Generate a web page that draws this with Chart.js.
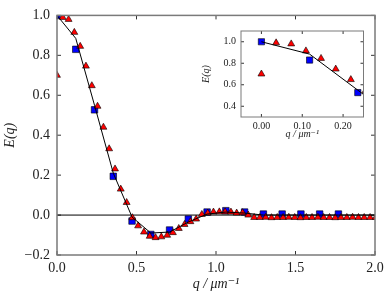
<!DOCTYPE html>
<html lang="en">
<head>
    <meta charset="UTF-8">
    <title>E(q)</title>
    <script src="https://cdn.jsdelivr.net/npm/chart.js"></script>
    <style>
        html, body { margin: 0; padding: 0; background: #fff; }
        #wrap { position: relative; width: 390px; height: 301px; }
        #main { position: absolute; left: 0; top: 0; }
        #inset { position: absolute; left: 200px; top: 20px; }
    </style>
</head>
<body>
    <div id="wrap">
        <canvas id="main" width="390" height="301"></canvas>
        <canvas id="inset" width="170" height="125"></canvas>
    </div>
<script>
    // measured points (red triangles)
    var triQ = [0, 0.036, 0.073, 0.109, 0.146, 0.182, 0.219, 0.255, 0.292, 0.328,
        0.365, 0.401, 0.438, 0.474, 0.510, 0.547, 0.583, 0.620, 0.656, 0.693,
        0.729, 0.766, 0.802, 0.839, 0.875, 0.911, 0.948, 0.984, 1.021, 1.057,
        1.094, 1.130, 1.167, 1.203, 1.240, 1.276, 1.313, 1.349, 1.385, 1.422,
        1.458, 1.495, 1.531, 1.568, 1.604, 1.641, 1.677, 1.714, 1.750, 1.786,
        1.823, 1.859, 1.896, 1.932, 1.969, 2.005]
    var triE = [0.70, 0.99, 0.98, 0.915, 0.845, 0.746, 0.648, 0.545, 0.44, 0.332,
        0.231, 0.13, 0.063, -0.013, -0.054, -0.085, -0.106, -0.113, -0.109, -0.101,
        -0.088, -0.067, -0.047, -0.033, -0.02, 0.003, 0.01, 0.015, 0.016, 0.016,
        0.015, 0.01, 0.012, 0.0, -0.012, -0.012, -0.011, -0.013, -0.012, -0.012,
        -0.011, -0.012, -0.013, -0.012, -0.012, -0.011, -0.012, -0.012, -0.013, -0.012,
        -0.012, -0.011, -0.012, -0.012, -0.012, -0.012]

    // simulation (blue squares)
    var sqQ = [0, 0.118, 0.236, 0.354, 0.472, 0.590, 0.708, 0.826, 0.944, 1.062,
        1.180, 1.298, 1.416, 1.534, 1.652, 1.770]
    var sqE = [1.0, 0.83, 0.527, 0.194, -0.03, -0.097, -0.075, -0.02, 0.015, 0.022,
        0.015, 0.005, 0.005, 0.005, 0.005, 0.005]

    // theory curve (black line)
    var fitQ = [0, 0.118, 0.236, 0.354, 0.472, 0.590, 0.708, 0.826, 0.944, 1.062,
        1.180, 1.298, 1.416, 1.534, 1.652, 1.770, 1.888, 2.0]
    var fitE = [1.0, 0.885, 0.55, 0.21, -0.01, -0.09, -0.085, -0.035, 0.005, 0.015,
        0.01, 0.0, 0.0, 0.0, 0.0, 0.0, 0.0, 0.0]

    var mainXTicks = [0, 0.5, 1.0, 1.5, 2.0]
    var mainYTicks = [-0.2, 0, 0.2, 0.4, 0.6, 0.8, 1.0]
    var insetXTicks = [0, 0.1, 0.2]
    var insetYTicks = [0.4, 0.6, 0.8, 1.0]

    function pts(xs, ys) {
        var out = []
        for (var i = 0; i < xs.length; i++) out.push({ x: xs[i], y: ys[i] })
        return out
    }

    function fmt(v, d) {
        if (Math.abs(v) < 1e-9) v = 0
        return v.toFixed(d).replace('-', '\u2212')
    }

    // frame, inward ticks on all four sides, zero line
    function framePlugin(len, width, zero) {
        return {
            id: 'frame',
            beforeDatasetsDraw: function (chart) {
                var c = chart.ctx, a = chart.chartArea
                c.save()
                c.fillStyle = '#fff'
                c.fillRect(a.left, a.top, a.right - a.left, a.bottom - a.top)
                if (zero) {
                    var y0 = chart.scales.y.getPixelForValue(0)
                    c.strokeStyle = '#000'
                    c.lineWidth = 1
                    c.beginPath()
                    c.moveTo(a.left, y0); c.lineTo(a.right, y0)
                    c.stroke()
                }
                c.restore()
            },
            afterDatasetsDraw: function (chart) {
                var c = chart.ctx, a = chart.chartArea
                c.save()
                c.strokeStyle = '#000'
                c.lineWidth = 0.8
                c.beginPath()
                chart.scales.x.ticks.forEach(function (t) {
                    var x = chart.scales.x.getPixelForValue(t.value)
                    c.moveTo(x, a.bottom); c.lineTo(x, a.bottom - len)
                    c.moveTo(x, a.top); c.lineTo(x, a.top + len)
                })
                chart.scales.y.ticks.forEach(function (t) {
                    var y = chart.scales.y.getPixelForValue(t.value)
                    c.moveTo(a.left, y); c.lineTo(a.left + len, y)
                    c.moveTo(a.right, y); c.lineTo(a.right - len, y)
                })
                c.stroke()
                c.strokeStyle = '#7a7a7a'
                c.lineWidth = width
                c.strokeRect(a.left, a.top, a.right - a.left, a.bottom - a.top)
                c.restore()
            }
        }
    }

    function datasets(triR, sqR) {
        return [
            {
                label: 'theory', data: pts(fitQ, fitE), showLine: true,
                borderColor: '#000', borderWidth: 1, pointRadius: 0, order: 0, clip: 0
            },
            {
                label: 'experiment', data: pts(triQ, triE), pointStyle: 'triangle',
                pointRadius: triR, backgroundColor: '#ff0000', borderColor: '#000',
                borderWidth: 0.6, order: 1, clip: 0
            },
            {
                label: 'simulation', data: pts(sqQ, sqE), pointStyle: 'rect',
                pointRadius: sqR, backgroundColor: '#0000ff', borderColor: '#000',
                borderWidth: 0.6, order: 2, clip: 0
            }
        ]
    }

    Chart.defaults.font.family = "'Liberation Serif', 'DejaVu Serif', serif"
    Chart.defaults.color = '#222'

    new Chart(document.getElementById('main'), {
        type: 'scatter',
        data: { datasets: datasets(4, 4.6) },
        options: {
            responsive: false,
            animation: false,
            events: [],
            layout: { padding: { top: 10, right: 15, left: 0, bottom: 0 } },
            plugins: { legend: { display: false }, tooltip: { enabled: false } },
            scales: {
                x: {
                    type: 'linear', min: 0, max: 2,
                    afterBuildTicks: function (s) { s.ticks = mainXTicks.map(function (v) { return { value: v } }) },
                    afterFit: function (s) { s.height = 46 },
                    grid: { display: false, drawTicks: false },
                    border: { display: false },
                    ticks: { padding: 5, font: { size: 14 }, maxRotation: 0, callback: function (v) { return fmt(v, 1) } },
                    title: { display: true, text: 'q / \u03bcm\u207b\u00b9', font: { size: 14, style: 'italic' }, padding: { top: 0, bottom: 8 } }
                },
                y: {
                    type: 'linear', min: -0.2, max: 1.0,
                    afterBuildTicks: function (s) { s.ticks = mainYTicks.map(function (v) { return { value: v } }) },
                    afterFit: function (s) { s.width = 57 },
                    grid: { display: false, drawTicks: false },
                    border: { display: false },
                    ticks: { padding: 7, font: { size: 14 }, callback: function (v) { return fmt(v, 1) } },
                    title: { display: true, text: 'E(q)', font: { size: 14, style: 'italic' }, padding: { top: 2, bottom: 0 } }
                }
            }
        },
        plugins: [framePlugin(4, 1.5, true)]
    });

    new Chart(document.getElementById('inset'), {
        type: 'scatter',
        data: { datasets: datasets(4, 4.4) },
        options: {
            responsive: false,
            animation: false,
            events: [],
            layout: { padding: { top: 6, right: 6.5, left: 0, bottom: 0 } },
            plugins: { legend: { display: false }, tooltip: { enabled: false } },
            scales: {
                x: {
                    type: 'linear', min: -0.05, max: 0.25,
                    afterBuildTicks: function (s) { s.ticks = insetXTicks.map(function (v) { return { value: v } }) },
                    afterFit: function (s) { s.height = 28 },
                    grid: { display: false, drawTicks: false },
                    border: { display: false },
                    ticks: { padding: 3, font: { size: 10 }, maxRotation: 0, callback: function (v) { return fmt(v, 2) } },
                    title: { display: true, text: 'q / \u03bcm\u207b\u00b9', font: { size: 10, style: 'italic' }, padding: { top: 0, bottom: 5 } }
                },
                y: {
                    type: 'linear', min: 0.3, max: 1.1,
                    afterBuildTicks: function (s) { s.ticks = insetYTicks.map(function (v) { return { value: v } }) },
                    afterFit: function (s) { s.width = 41 },
                    grid: { display: false, drawTicks: false },
                    border: { display: false },
                    ticks: { padding: 5, font: { size: 10 }, callback: function (v) { return fmt(v, 1) } },
                    title: { display: true, text: 'E(q)', font: { size: 10, style: 'italic' }, padding: { top: 0, bottom: 0 } }
                }
            }
        },
        plugins: [framePlugin(3, 1, false)]
    });
</script>
</body>
</html>
